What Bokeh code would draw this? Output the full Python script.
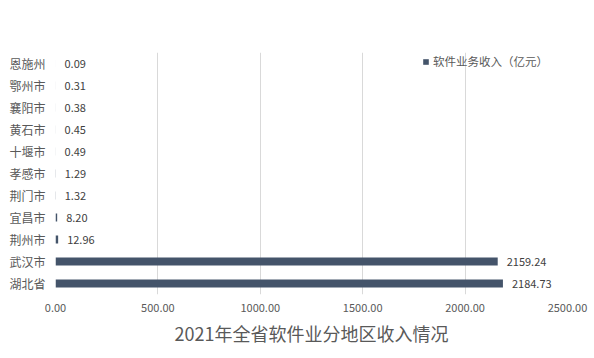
from bokeh.plotting import figure
from bokeh.models import (ColumnDataSource, FactorRange, Range1d, FixedTicker,
                          NumeralTickFormatter, Legend, LegendItem, Title, LabelSet)
from bokeh.core.properties import value
from bokeh.embed import file_html
from bokeh.resources import INLINE

# Data (top to bottom as in the picture)
regions = ["恩施州", "鄂州市", "襄阳市", "黄石市", "十堰市", "孝感市", "荆门市", "宜昌市", "荆州市", "武汉市", "湖北省"]
revenue = [0.09, 0.31, 0.38, 0.45, 0.49, 1.29, 1.32, 8.20, 12.96, 2159.24, 2184.73]
revenue_labels = ["0.09", "0.31", "0.38", "0.45", "0.49", "1.29", "1.32", "8.20", "12.96", "2159.24", "2184.73"]
x_ticks = [0, 500, 1000, 1500, 2000, 2500]
series_name = "软件业务收入（亿元）"
chart_title = "2021年全省软件业分地区收入情况"

BAR = "#44546A"
TXT = "#595959"
FONT = "Noto Sans CJK SC"

source = ColumnDataSource(dict(region=regions, revenue=revenue, label=revenue_labels))

p = figure(width=594, height=358, output_backend="svg", toolbar_location=None,
           y_range=FactorRange(factors=list(reversed(regions)), range_padding=0),
           x_range=Range1d(0, 2500),
           min_border_left=55, min_border_right=27, min_border_top=52, min_border_bottom=64)
p.outline_line_color = None

r = p.hbar(y="region", right="revenue", left=0, height=0.36, source=source,
           fill_color=BAR, line_color=None)

labels = LabelSet(x="revenue", y="region", text="label", source=source,
                  x_offset=9, text_align="left", text_baseline="middle",
                  text_font_size="11px", text_color="#404040", text_font=value(FONT))
p.add_layout(labels)

# axes
p.xaxis.ticker = FixedTicker(ticks=x_ticks)
p.xaxis.formatter = NumeralTickFormatter(format="0.00")
p.xaxis.axis_line_color = None
p.xaxis.major_tick_line_color = None
p.xaxis.minor_tick_line_color = None
p.xaxis.major_tick_out = 0
p.xaxis.major_tick_in = 0
p.xaxis.major_label_standoff = 9
p.xaxis.major_label_text_font_size = "11px"
p.xaxis.major_label_text_color = TXT
p.xaxis.major_label_text_font = FONT

p.yaxis.axis_line_color = None
p.yaxis.major_tick_line_color = None
p.yaxis.minor_tick_line_color = None
p.yaxis.major_tick_out = 0
p.yaxis.major_tick_in = 0
p.yaxis.major_label_standoff = 10
p.yaxis.major_label_text_font_size = "12px"
p.yaxis.major_label_text_color = TXT
p.yaxis.major_label_text_font = FONT

p.ygrid.grid_line_color = None
p.xgrid.grid_line_color = "#D9D9D9"
p.xgrid.grid_line_width = 1

# legend
legend = Legend(items=[LegendItem(label=series_name, renderers=[r])],
                location=(367, 225), orientation="horizontal",
                glyph_width=7, glyph_height=7, label_standoff=4,
                label_text_font_size="11.5px", label_text_color=TXT, label_text_font=FONT,
                label_height=12, label_width=130, padding=0, margin=0, spacing=0,
                border_line_color=None, background_fill_alpha=0)
p.add_layout(legend, "center")

# title below
t = Title(text=chart_title, align="center", text_font_size="18px", text_font_style="normal",
          text_color=TXT, text_font=FONT, standoff=6)
p.add_layout(t, "below")

open("out.html", "w").write(file_html(p, INLINE))
